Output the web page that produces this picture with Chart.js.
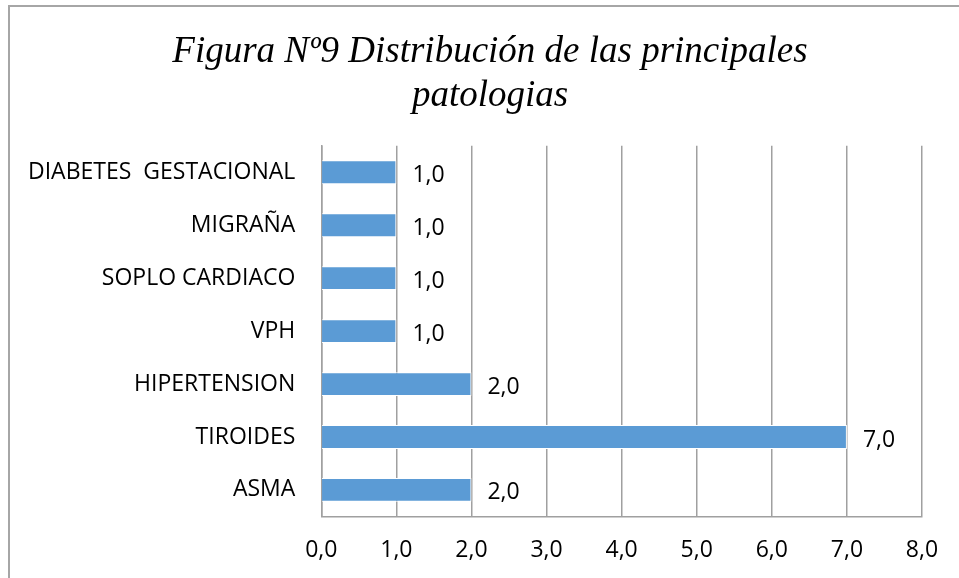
<!DOCTYPE html>
<html>
<head>
<meta charset="utf-8">
<script src="https://cdn.jsdelivr.net/npm/chart.js@4/dist/chart.umd.min.js"></script>
<style>
    html, body { margin: 0; padding: 0; background: #fff; overflow: hidden; }
    #frame {
        position: absolute; left: 8px; top: 5px; width: 1000px; height: 620px;
        border-left: 2px solid #a6a6a6; border-top: 2px solid #a6a6a6;
    }
    #wrap { position: absolute; left: 0; top: 0; width: 980px; height: 578px; }
</style>
</head>
<body>
<div id="frame"></div>
<div id="wrap"><canvas id="chart"></canvas></div>
<script>
const titleLines = ["Figura Nº9 Distribución de las principales", "patologias"];
const categories = ["DIABETES  GESTACIONAL", "MIGRAÑA", "SOPLO CARDIACO", "VPH", "HIPERTENSION", "TIROIDES", "ASMA"];
const values = [1, 1, 1, 1, 2, 7, 2];
const axisMin = 0;
const axisMax = 8;

const labelFont = "'Open Sans', sans-serif";
const fmt = v => Number(v).toFixed(1).replace(".", ",");

// value labels to the right of each bar
const valueLabels = {
    id: "valueLabels",
    afterDatasetsDraw(chart) {
        const ctx = chart.ctx;
        const meta = chart.getDatasetMeta(0);
        ctx.save();
        ctx.font = "23px " + labelFont;
        ctx.fillStyle = "#000";
        ctx.textAlign = "left";
        ctx.textBaseline = "middle";
        meta.data.forEach((bar, i) => {
            ctx.fillText(fmt(values[i]), bar.x + 16, bar.y + 3);
        });
        ctx.restore();
    }
};

// centre the title on the whole canvas instead of the padded box
const centreTitle = {
    id: "centreTitle",
    afterLayout(chart) {
        const t = chart.titleBlock;
        if (!t) return;
        t.left = 0;
        t.right = chart.width;
        t.width = chart.width;
    }
};

new Chart(document.getElementById("chart"), {
    type: "bar",
    data: {
        labels: categories,
        datasets: [{
            data: values,
            backgroundColor: "#5b9bd5",
            borderColor: "#ffffff",
            borderWidth: 1,
            categoryPercentage: 1,
            barPercentage: 0.45
        }]
    },
    options: {
        indexAxis: "y",
        responsive: true,
        maintainAspectRatio: false,
        animation: false,
        layout: { padding: { left: 2, right: 58, top: 30, bottom: -6 } },
        plugins: {
            legend: { display: false },
            tooltip: { enabled: false },
            title: {
                display: true,
                text: titleLines,
                color: "#000",
                font: { family: "'Liberation Serif', 'Times New Roman', serif", size: 37, style: "italic", weight: "normal", lineHeight: 1.2 },
                padding: { top: 0, bottom: 27 }
            }
        },
        scales: {
            x: {
                min: axisMin,
                max: axisMax,
                ticks: {
                    stepSize: 1,
                    color: "#000",
                    font: { family: labelFont, size: 23 },
                    padding: 20,
                    callback: v => fmt(v)
                },
                grid: { color: "#a0a0a0", lineWidth: 1.5, drawTicks: false },
                border: { color: "#a0a0a0", width: 1.5 }
            },
            y: {
                ticks: {
                    color: "#000",
                    font: { family: labelFont, size: 23 },
                    padding: 26
                },
                grid: { display: false, drawTicks: false },
                border: { color: "#a0a0a0", width: 1.5 }
            }
        }
    },
    plugins: [valueLabels, centreTitle]
});
</script>
</body>
</html>
